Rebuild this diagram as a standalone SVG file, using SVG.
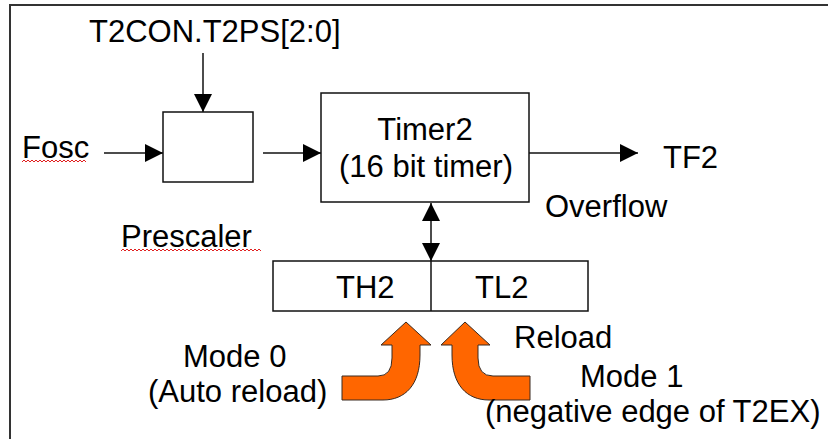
<svg xmlns="http://www.w3.org/2000/svg" width="828" height="439" viewBox="0 0 828 439">
<defs>
<style>
text{font-family:"Liberation Sans",Arial,sans-serif;font-size:31px;fill:#000}
.box{fill:#fff;stroke:#111;stroke-width:1.5}
.wire{stroke:#111;stroke-width:1.5;fill:none}
.big{fill:#ff6600;stroke:#3a2a20;stroke-width:1}
.sq{fill:none;stroke:#e02020;stroke-width:1}
</style>
<marker id="ah" markerUnits="userSpaceOnUse" markerWidth="18" markerHeight="18" refX="16" refY="8" orient="auto-start-reverse" viewBox="0 0 16 16">
<path d="M0,0 L16,8 L0,16 Z" fill="#000"/>
</marker>
</defs>
<rect x="0" y="0" width="828" height="439" fill="#fff"/>
<path d="M10,439 L10,5 L828,5" fill="none" stroke="#333" stroke-width="2"/>

<g id="connectors">
<line class="wire" x1="203" y1="53" x2="203" y2="112" marker-end="url(#ah)"/>
<line class="wire" x1="104" y1="153" x2="163" y2="153" marker-end="url(#ah)"/>
<line class="wire" x1="263" y1="153" x2="321" y2="153" marker-end="url(#ah)"/>
<line class="wire" x1="529" y1="153" x2="638" y2="153" marker-end="url(#ah)"/>
<line class="wire" x1="431" y1="203" x2="431" y2="261" marker-start="url(#ah)" marker-end="url(#ah)"/>
</g>

<g id="t2con"><text x="89" y="42">T2CON.T2PS[2:0]</text></g>
<g id="fosc"><text x="22" y="158">Fosc</text>
<path class="sq" d="M22,162 l2,-2 l2,2 l2,-2 l2,2 l2,-2 l2,2 l2,-2 l2,2 l2,-2 l2,2 l2,-2 l2,2 l2,-2 l2,2 l2,-2 l2,2 l2,-2 l2,2 l2,-2 l2,2 l2,-2 l2,2 l2,-2 l2,2 l2,-2 l2,2 l2,-2 l2,2 l2,-2 l2,2 l2,-2 l2,2"/></g>

<g id="prescaler">
<rect class="box" x="163" y="112" width="90" height="70"/>
<text x="121" y="247">Prescaler</text>
<path class="sq" d="M121,251 l2,-2 l2,2 l2,-2 l2,2 l2,-2 l2,2 l2,-2 l2,2 l2,-2 l2,2 l2,-2 l2,2 l2,-2 l2,2 l2,-2 l2,2 l2,-2 l2,2 l2,-2 l2,2 l2,-2 l2,2 l2,-2 l2,2 l2,-2 l2,2 l2,-2 l2,2 l2,-2 l2,2 l2,-2 l2,2 l2,-2 l2,2 l2,-2 l2,2 l2,-2 l2,2 l2,-2 l2,2 l2,-2 l2,2 l2,-2 l2,2 l2,-2 l2,2 l2,-2 l2,2 l2,-2 l2,2 l2,-2 l2,2 l2,-2 l2,2 l2,-2 l2,2 l2,-2 l2,2 l2,-2 l2,2 l2,-2 l2,2 l2,-2 l2,2 l2,-2 l2,2 l2,-2 l2,2 l2,-2 l2,2"/>
</g>

<g id="timer2">
<rect class="box" x="321" y="93" width="208" height="109"/>
<text x="425" y="140" text-anchor="middle">Timer2</text>
<text x="426" y="177" text-anchor="middle">(16 bit timer)</text>
</g>

<g id="tf2"><text x="663" y="168">TF2</text></g>
<g id="overflow"><text x="545" y="217">Overflow</text></g>

<g id="th2tl2">
<rect class="box" x="273" y="261" width="315" height="50"/>
<line class="wire" x1="431" y1="261" x2="431" y2="311"/>
<text x="336" y="298">TH2</text>
<text x="475" y="298">TL2</text>
</g>

<g id="mode0">
<path class="big" d="M342,376 L378,376 Q392,376 392,358 L392,345 L381,345 L406,322 L431,345 L420,345 L420,355 C420,385 405,400 383,400 L342,400 Z"/>
<text x="183" y="367">Mode 0</text>
<text x="148" y="402">(Auto reload)</text>
</g>

<g id="mode1">
<path class="big" d="M530,376 L493,376 Q478,376 478,358 L478,345 L490,345 L465,322 L441,345 L452,345 L452,355 C452,385 467,400 489,400 L530,400 Z"/>
<text x="514" y="348">Reload</text>
<text x="580" y="387">Mode 1</text>
<text x="485" y="422">(negative edge of T2EX)</text>
</g>
</svg>
